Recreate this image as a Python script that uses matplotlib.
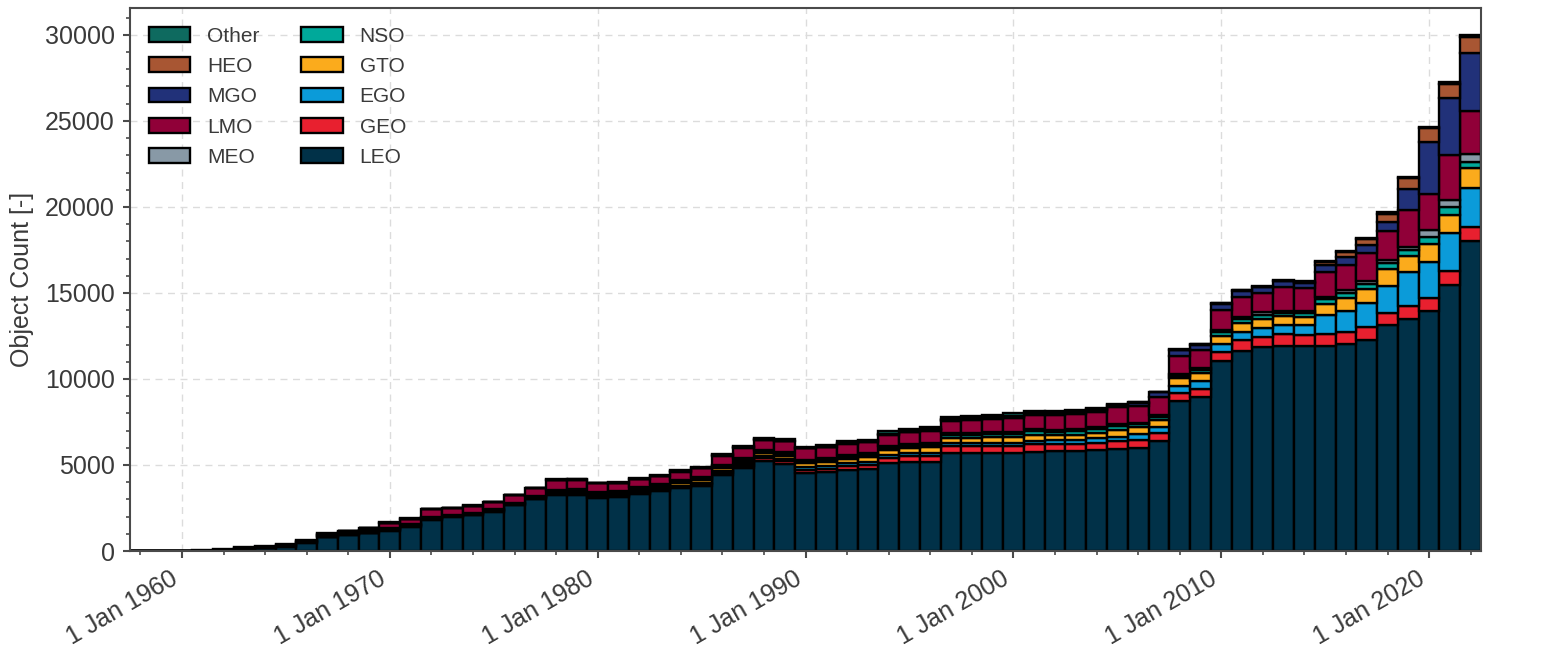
import numpy as np
import matplotlib
matplotlib.use("Agg")
import matplotlib.pyplot as plt
from matplotlib.ticker import MultipleLocator, FixedLocator, FixedFormatter

plt.rcParams['font.family'] = ['Liberation Sans', 'DejaVu Sans']

years = list(range(1958, 2023))

LEO = [3, 5, 15, 30, 60, 120, 160, 255, 490, 800, 920, 1020, 1175, 1425, 1815, 1990, 2085, 2280, 2665, 3015,
       3250, 3265, 3110, 3120, 3305, 3460, 3635, 3790, 4410, 4800, 5240, 5050, 4525, 4565, 4720, 4760, 5090, 5185,
       5185, 5725, 5690, 5690, 5670, 5765, 5820, 5800, 5850, 5920, 5963, 6370, 8730, 8928, 11021, 11639, 11835,
       11930, 11893, 11930, 12027, 12259, 13131, 13480, 13945, 15475, 18033]
GEO = [0, 0, 0, 0, 0, 5, 10, 10, 10, 15, 20, 25, 25, 25, 30, 20, 25, 25, 25, 30,
       50, 55, 60, 65, 70, 70, 80, 90, 140, 150, 160, 180, 200, 210, 230, 260, 312, 320,
       330, 390, 420, 430, 440, 440, 390, 400, 410, 480, 482, 462, 468, 502, 568, 619, 617,
       667, 636, 710, 725, 784, 726, 764, 784, 825, 822]
EGO = [0, 0, 0, 0, 0, 5, 10, 10, 15, 20, 25, 30, 25, 25, 25, 15, 20, 20, 20, 25,
       45, 45, 50, 50, 55, 55, 65, 70, 95, 90, 100, 110, 150, 160, 150, 160, 190, 190,
       200, 180, 170, 180, 180, 210, 260, 270, 290, 240, 328, 348, 365, 425, 436, 494, 533,
       543, 581, 1060, 1201, 1356, 1568, 1958, 2054, 2170, 2232]
GTO = [0, 0, 0, 0, 5, 20, 30, 30, 35, 50, 55, 60, 55, 50, 55, 30, 45, 45, 45, 55,
       90, 95, 100, 130, 145, 145, 160, 170, 165, 160, 170, 205, 220, 230, 240, 270, 281, 290,
       320, 300, 310, 320, 320, 350, 280, 300, 330, 390, 411, 428, 470, 468, 486, 496, 495,
       495, 506, 680, 776, 814, 951, 949, 1066, 1065, 1163]
NSO = [0, 0, 0, 0, 5, 20, 30, 30, 35, 60, 60, 60, 50, 40, 45, 25, 35, 35, 35, 45,
       70, 75, 80, 75, 90, 90, 100, 110, 105, 105, 108, 110, 110, 115, 115, 120, 112, 114,
       140, 170, 175, 190, 200, 210, 160, 190, 200, 210, 180, 210, 160, 180, 200, 220, 230,
       200, 210, 250, 291, 310, 349, 349, 387, 445, 384]
MEO = [0, 0, 0, 0, 0, 10, 20, 20, 25, 40, 40, 40, 35, 30, 35, 20, 25, 25, 25, 35,
       52, 56, 56, 57, 63, 63, 77, 80, 93, 92, 100, 109, 111, 115, 114, 116, 110, 110,
       132, 120, 123, 131, 135, 143, 116, 124, 137, 135, 103, 80, 88, 106, 127, 145, 155,
       127, 136, 110, 154, 175, 194, 194, 427, 427, 447]
LMO = [0, 0, 0, 0, 0, 0, 0, 0, 0, 20, 30, 110, 290, 295, 425, 390, 390, 430, 430, 450,
       585, 545, 470, 450, 450, 450, 485, 490, 525, 605, 565, 605, 645, 625, 680, 625, 645, 680,
       680, 680, 720, 730, 780, 815, 873, 873, 873, 972, 952, 1027, 1045, 1058, 1145, 1126, 1107,
       1396, 1328, 1480, 1454, 1608, 1705, 2132, 2073, 2616, 2519]
MGO = [0, 0, 0, 0, 0, 0, 0, 0, 0, 0, 0, 0, 0, 0, 0, 10, 10, 0, 5, 10,
       10, 20, 15, 20, 15, 20, 25, 30, 25, 30, 30, 35, 25, 35, 40, 40, 60, 55,
       65, 65, 70, 70, 80, 70, 110, 110, 120, 130, 200, 294, 352, 319, 369, 389, 348,
       312, 310, 400, 442, 485, 523, 1221, 3062, 3295, 3337]
HEO = [0, 0, 0, 0, 0, 0, 0, 0, 0, 0, 0, 0, 0, 0, 0, 0, 0, 0, 0, 0,
       0, 5, 5, 5, 5, 5, 10, 10, 10, 10, 10, 10, 10, 10, 15, 15, 20, 20,
       25, 25, 25, 25, 30, 25, 40, 40, 40, 30, 40, 25, 30, 40, 50, 30, 50,
       40, 60, 180, 290, 349, 446, 620, 776, 812, 928]
OTHER = [0, 0, 5, 10, 20, 30, 40, 40, 40, 30, 20, 20, 10, 15, 0, 25, 25, 0, 10, 25,
         25, 50, 35, 40, 35, 50, 60, 70, 60, 70, 75, 85, 60, 85, 100, 95, 130, 115,
         140, 145, 150, 150, 160, 115, 99, 81, 90, 30, 29, 26, 27, 34, 42, 25, 45,
         35, 46, 69, 51, 46, 86, 85, 85, 146, 143]

classes = ["LEO", "GEO", "EGO", "GTO", "NSO", "MEO", "LMO", "MGO", "HEO", "Other"]
series = [LEO, GEO, EGO, GTO, NSO, MEO, LMO, MGO, HEO, OTHER]
colors = ["#013148", "#e8202f", "#0b9bd9", "#fbab1c", "#00a99a", "#8899a6",
          "#900038", "#213179", "#a85633", "#0e6a5f"]

tick_years = [1960, 1970, 1980, 1990, 2000, 2010, 2020]
tick_labels = ["1 Jan 1960", "1 Jan 1970", "1 Jan 1980", "1 Jan 1990",
               "1 Jan 2000", "1 Jan 2010", "1 Jan 2020"]

txt = "#3a3a3a"
spc = "#4a4a4a"

fig = plt.figure(figsize=(15.41, 6.57), dpi=100)
ax = fig.add_axes([0.0844, 0.1613, 0.8767, 0.8265])

x = np.array(years, dtype=float)
bottom = np.zeros(len(years))
handles = []
for name, vals, col in zip(classes, series, colors):
    v = np.array(vals, dtype=float)
    b = ax.bar(x, v, width=1.0, bottom=bottom, color=col, edgecolor="black",
               linewidth=1.7, label=name, zorder=2)
    handles.append(b)
    bottom = bottom + v

ax.set_xlim(1957.5, 2022.5)
ax.set_ylim(0, 31560)

ax.xaxis.set_major_locator(FixedLocator(tick_years))
ax.xaxis.set_major_formatter(FixedFormatter(tick_labels))
ax.xaxis.set_minor_locator(MultipleLocator(2))
ax.yaxis.set_major_locator(MultipleLocator(5000))
ax.yaxis.set_minor_locator(MultipleLocator(1000))

ax.grid(True, which="major", linestyle=(0, (5, 4)), color="#dcdcdc", linewidth=1.0, zorder=0)
ax.set_axisbelow(True)

for s in ax.spines.values():
    s.set_color(spc)
    s.set_linewidth(1.5)

ax.tick_params(axis="both", which="major", direction="out", length=5, width=1.5,
               color=spc, labelcolor=txt, labelsize=18, pad=6)
ax.tick_params(axis="both", which="minor", direction="out", length=2.8, width=1.2, color=spc)
for lab in ax.get_xticklabels():
    lab.set_rotation(30)
    lab.set_ha("right")

ax.set_ylabel("Object Count [-]", fontsize=18, color=txt, labelpad=8)

order = [9, 8, 7, 6, 5, 4, 3, 2, 1, 0]
leg = ax.legend([handles[i] for i in order], [classes[i] for i in order],
                loc="upper left", ncol=2, frameon=False, fontsize=15,
                handlelength=2.0, handleheight=0.7, labelspacing=0.54,
                labelcolor=txt)

fig.savefig("out.png", dpi=100)
